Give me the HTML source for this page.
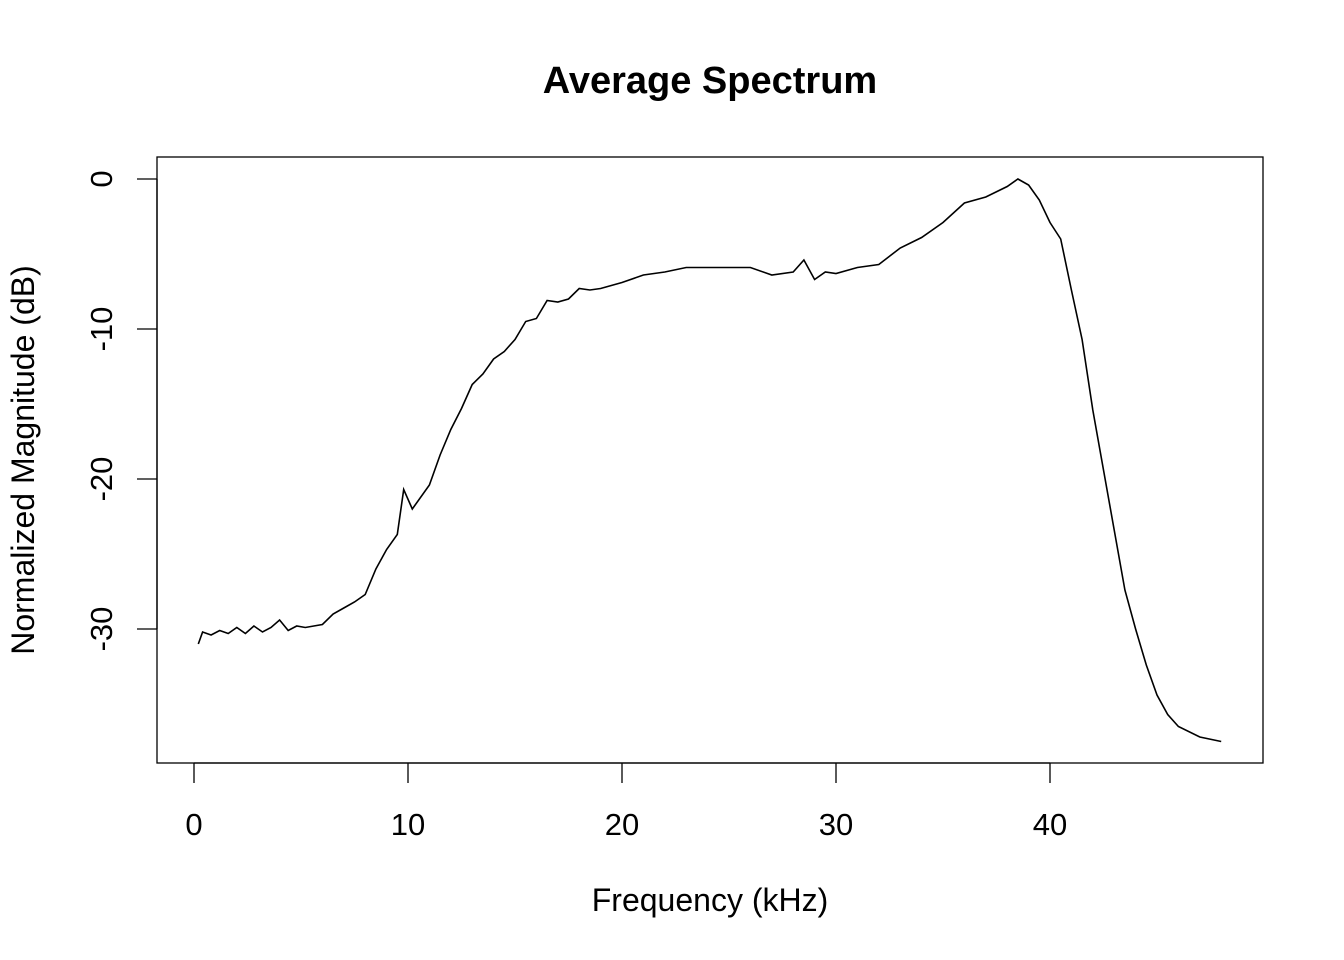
<!DOCTYPE html>
<html><head><meta charset="utf-8"><style>
html,body{margin:0;padding:0;background:#fff;}
svg{display:block;font-family:"Liberation Sans",Arial,sans-serif;}
</style></head><body>
<svg id="chart" width="1344" height="960">
<rect width="1344" height="960" fill="#fff"/>
<text x="710" y="93" text-anchor="middle" font-size="38" font-weight="bold">Average Spectrum</text>
<rect x="157" y="157" width="1106" height="606" fill="none" stroke="#000" stroke-width="1.3"/>
<text x="710" y="911" text-anchor="middle" font-size="32">Frequency (kHz)</text>
<text transform="translate(34,460) rotate(-90)" text-anchor="middle" font-size="32">Normalized Magnitude (dB)</text>
<g id="xaxis"></g>
<g id="yaxis"></g>
<path id="line" fill="none" stroke="#000" stroke-width="1.6"/>
</svg>
<script>
const xTicks=[0,10,20,30,40];
const yTicks=[0,-10,-20,-30];
const freq=[0.2,0.4,0.8,1.2,1.6,2.0,2.4,2.8,3.2,3.6,4.0,4.4,4.8,5.2,5.6,6.0,6.5,7,7.5,8,8.5,9,9.5,9.8,10.2,11,11.5,12,12.5,13,13.5,14,14.5,15,15.5,16,16.5,17,17.5,18,18.5,19,19.5,20,21,22,23,24,25,26,27,28,28.5,29,29.5,30,31,32,33,34,35,36,37,38,38.5,39,39.5,40,40.5,41,41.5,42,42.5,43,43.5,44,44.5,45,45.5,46,47,48];
const mag=[-31,-30.2,-30.4,-30.1,-30.3,-29.9,-30.3,-29.8,-30.2,-29.9,-29.4,-30.1,-29.8,-29.9,-29.8,-29.7,-29,-28.6,-28.2,-27.7,-26,-24.7,-23.7,-20.7,-22,-20.4,-18.4,-16.7,-15.3,-13.7,-13,-12,-11.5,-10.7,-9.5,-9.3,-8.1,-8.2,-8,-7.3,-7.4,-7.3,-7.1,-6.9,-6.4,-6.2,-5.9,-5.9,-5.9,-5.9,-6.4,-6.2,-5.4,-6.7,-6.2,-6.3,-5.9,-5.7,-4.6,-3.9,-2.9,-1.6,-1.2,-0.5,0,-0.4,-1.4,-2.9,-4,-7.4,-10.7,-15.4,-19.4,-23.4,-27.4,-30,-32.4,-34.4,-35.7,-36.5,-37.2,-37.5];
const X=v=>194+v*21.4, Y=v=>179-v*15;
const ns="http://www.w3.org/2000/svg";
const xa=document.getElementById('xaxis'), ya=document.getElementById('yaxis');
function el(t,a,p){const e=document.createElementNS(ns,t);for(const k in a)e.setAttribute(k,a[k]);p.appendChild(e);return e;}
el('line',{x1:X(0),x2:X(40),y1:763,y2:763,stroke:'#000','stroke-width':1.3},xa);
xTicks.forEach(t=>{
 const l=el('line',{x1:X(t),x2:X(t),y1:763,y2:783,stroke:'#000','stroke-width':1.3},xa);
 
 
 const s=el('text',{x:X(t),y:835,'text-anchor':'middle','font-size':31},xa);s.textContent=t;
 
 
});
el('line',{x1:157,x2:157,y1:Y(0),y2:Y(-30),stroke:'#000','stroke-width':1.3},ya);
yTicks.forEach(t=>{
 const l=el('line',{x1:137,x2:157,y1:Y(t),y2:Y(t),stroke:'#000','stroke-width':1.3},ya);
 
 
 const s=el('text',{transform:`translate(112,${Y(t)}) rotate(-90)`,'text-anchor':'middle','font-size':31},ya);s.textContent=t;
 
 
});
document.getElementById('line').setAttribute('d',freq.map((f,i)=>(i?'L':'M')+X(f).toFixed(1)+' '+Y(mag[i]).toFixed(1)).join(' '));
</script>
</body></html>
